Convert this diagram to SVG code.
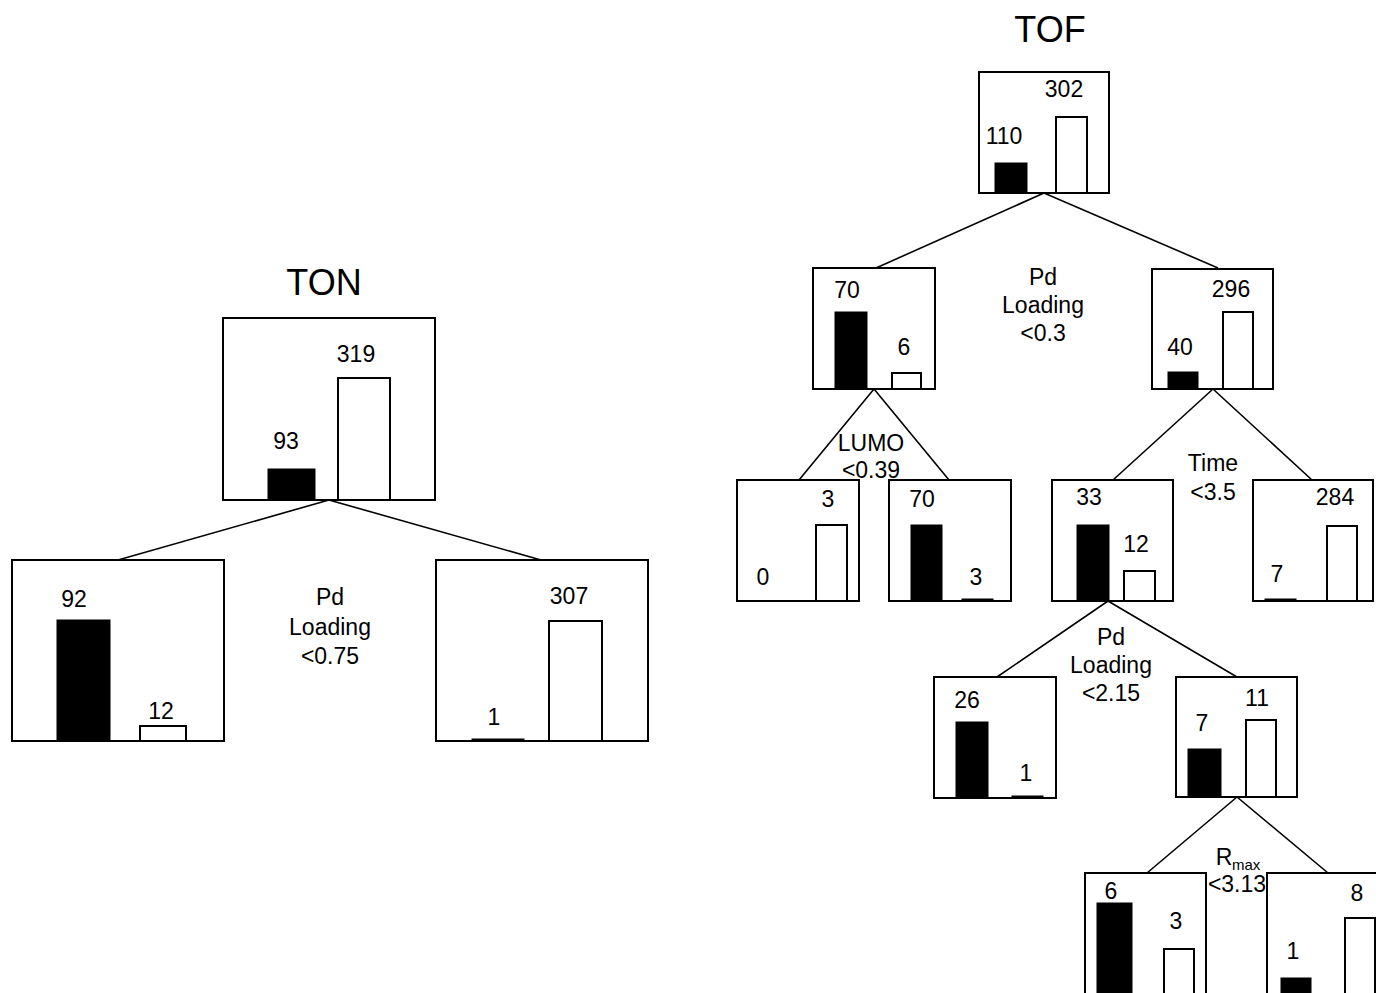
<svg xmlns="http://www.w3.org/2000/svg" width="1376" height="993" viewBox="0 0 1376 993">
<style>
text{font-family:"Liberation Sans",Arial,sans-serif;font-size:23px;fill:#000;text-anchor:middle}
.title{font-size:36px}
.box{fill:#fff;stroke:#000;stroke-width:2}
.blk{fill:#000;stroke:#000;stroke-width:1}
.wht{fill:#fff;stroke:#000;stroke-width:2}
.edge{stroke:#000;stroke-width:1.6;fill:none}
.sub{font-size:15px;text-anchor:start}
</style>
<rect width="1376" height="993" fill="#fff"/>
<g id="connectors">
<path class="edge" d="M329,500L118,560M329,500L541,560"/>
<path class="edge" d="M1044,193L876,268M1044,193L1218,268"/>
<path class="edge" d="M874,389L799,480M874,389L949,480"/>
<path class="edge" d="M1213,389L1113,480M1213,389L1312,480"/>
<path class="edge" d="M1108,601L997,677M1108,601L1237,677"/>
<path class="edge" d="M1237,797L1147,873M1237,797L1328,873"/>
</g>
<g id="ton-title"><text class="title" x="324" y="295">TON</text></g>
<g id="ton-root">
<rect class="box" x="223" y="318" width="212" height="182"/>
<rect class="blk" x="268" y="469" width="47" height="31"/>
<rect class="wht" x="338" y="378" width="52" height="122"/>
<text x="286" y="449">93</text>
<text x="356" y="362">319</text>
</g>
<g id="ton-left">
<rect class="box" x="12" y="560" width="212" height="181"/>
<rect class="blk" x="57" y="620" width="53" height="121"/>
<rect class="wht" x="140" y="726" width="46" height="15"/>
<text x="74" y="607">92</text>
<text x="161" y="719">12</text>
</g>
<g id="ton-split"><text x="330" y="605">Pd</text><text x="330" y="635">Loading</text><text x="330" y="664">&lt;0.75</text></g>
<g id="ton-right">
<rect class="box" x="436" y="560" width="212" height="181"/>
<rect class="blk" x="472" y="739" width="52" height="2"/>
<rect class="wht" x="549" y="621" width="53" height="120"/>
<text x="494" y="725">1</text>
<text x="569" y="604">307</text>
</g>
<g id="tof-title"><text class="title" x="1050" y="42">TOF</text></g>
<g id="tof-root">
<rect class="box" x="979" y="72" width="130" height="121"/>
<rect class="blk" x="995" y="163" width="32" height="30"/>
<rect class="wht" x="1056" y="117" width="31" height="76"/>
<text x="1004" y="144">110</text>
<text x="1064" y="97">302</text>
</g>
<g id="tof-split1"><text x="1043" y="285">Pd</text><text x="1043" y="313">Loading</text><text x="1043" y="341">&lt;0.3</text></g>
<g id="tof-l">
<rect class="box" x="813" y="268" width="122" height="121"/>
<rect class="blk" x="835" y="312" width="32" height="77"/>
<rect class="wht" x="892" y="373" width="29" height="16"/>
<text x="847" y="298">70</text>
<text x="904" y="355">6</text>
</g>
<g id="tof-lumo"><text x="871" y="451">LUMO</text><text x="871" y="478">&lt;0.39</text></g>
<g id="tof-ll">
<rect class="box" x="737" y="480" width="122" height="121"/>
<rect class="wht" x="816" y="525" width="31" height="76"/>
<text x="763" y="585">0</text>
<text x="828" y="507">3</text>
</g>
<g id="tof-lr">
<rect class="box" x="889" y="480" width="122" height="121"/>
<rect class="blk" x="911" y="525" width="31" height="76"/>
<rect class="blk" x="962" y="599" width="31" height="2"/>
<text x="922" y="507">70</text>
<text x="976" y="585">3</text>
</g>
<g id="tof-r">
<rect class="box" x="1152" y="269" width="121" height="120"/>
<rect class="blk" x="1168" y="372" width="30" height="17"/>
<rect class="wht" x="1223" y="312" width="30" height="77"/>
<text x="1180" y="355">40</text>
<text x="1231" y="297">296</text>
</g>
<g id="tof-time"><text x="1213" y="471">Time</text><text x="1213" y="500">&lt;3.5</text></g>
<g id="tof-rl">
<rect class="box" x="1052" y="480" width="121" height="121"/>
<rect class="blk" x="1077" y="525" width="32" height="76"/>
<rect class="wht" x="1124" y="571" width="31" height="30"/>
<text x="1089" y="505">33</text>
<text x="1136" y="552">12</text>
</g>
<g id="tof-rr">
<rect class="box" x="1253" y="480" width="120" height="121"/>
<rect class="blk" x="1265" y="599" width="31" height="2"/>
<rect class="wht" x="1327" y="526" width="30" height="75"/>
<text x="1277" y="582">7</text>
<text x="1335" y="505">284</text>
</g>
<g id="tof-split3"><text x="1111" y="645">Pd</text><text x="1111" y="673">Loading</text><text x="1111" y="701">&lt;2.15</text></g>
<g id="tof-rll">
<rect class="box" x="934" y="677" width="122" height="121"/>
<rect class="blk" x="956" y="722" width="32" height="76"/>
<rect class="blk" x="1012" y="796" width="31" height="2"/>
<text x="967" y="708">26</text>
<text x="1026" y="781">1</text>
</g>
<g id="tof-rlr">
<rect class="box" x="1176" y="677" width="121" height="120"/>
<rect class="blk" x="1188" y="749" width="33" height="48"/>
<rect class="wht" x="1246" y="720" width="30" height="77"/>
<text x="1202" y="731">7</text>
<text x="1257" y="706">11</text>
</g>
<g id="tof-rmax"><text x="1224" y="865">R</text><text class="sub" x="1232" y="870">max</text><text x="1237" y="892">&lt;3.13</text></g>
<g id="tof-rlrl">
<rect class="box" x="1085" y="873" width="121" height="140"/>
<rect class="blk" x="1097" y="903" width="35" height="110"/>
<rect class="wht" x="1164" y="949" width="30" height="64"/>
<text x="1111" y="899">6</text>
<text x="1176" y="929">3</text>
</g>
<g id="tof-rlrr">
<rect class="box" x="1267" y="873" width="121" height="140"/>
<rect class="blk" x="1281" y="978" width="30" height="35"/>
<rect class="wht" x="1345" y="918" width="30" height="95"/>
<text x="1293" y="959">1</text>
<text x="1357" y="901">8</text>
</g>
</svg>
